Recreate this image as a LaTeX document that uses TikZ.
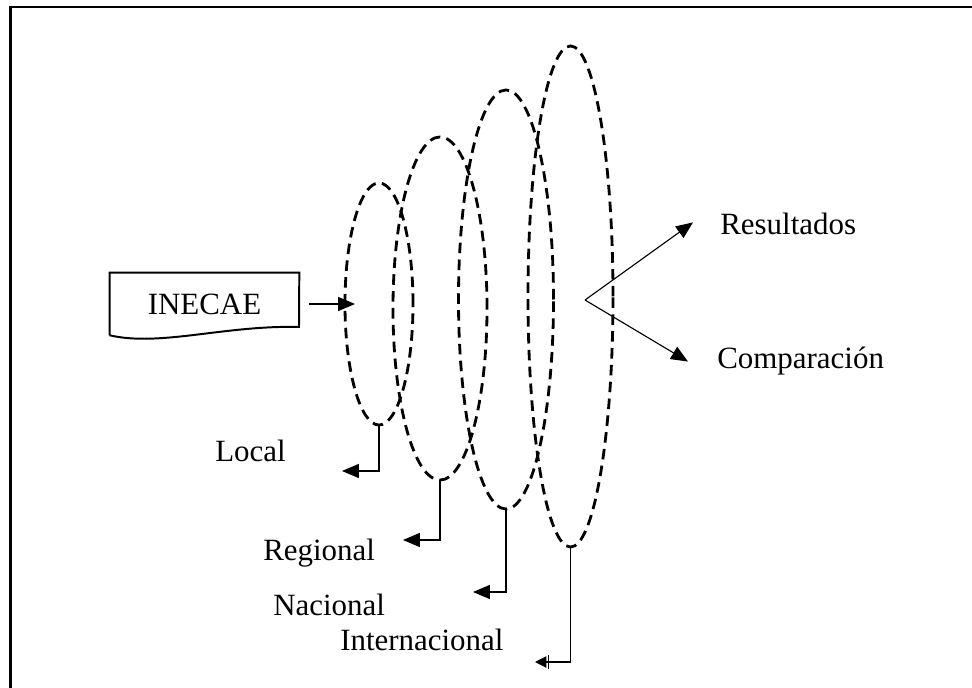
\documentclass[tikz,border=0pt]{standalone}
\usepackage{fontspec}
\setmainfont{Liberation Serif}
\usepackage{tikz}
\usetikzlibrary{arrows.meta,positioning,calc,shapes.geometric}

\begin{document}
\begin{tikzpicture}[
    x=0.025cm, y=-0.025cm,
    >=Latex,
    ring/.style={draw, ellipse, dash pattern=on 7.5pt off 4.5pt, line width=2pt, inner sep=0pt, outer sep=0pt},
    link/.style={line width=0.8pt, -{Triangle[length=12pt,width=10pt]}},
    label/.style={font=\fontsize{22}{26}\selectfont, inner sep=0pt, anchor=base west}
]
\clip (0,0) rectangle (972,688);
\draw[line width=2.1pt] (10.5,7) rectangle (1000,720);

\node[ring, minimum width=1.7cm, minimum height=6.05cm] (ring1) at (379,304) {};
\node[ring, minimum width=2.35cm, minimum height=8.575cm] (ring2) at (440,308.5) {};
\node[ring, minimum width=2.375cm, minimum height=10.475cm] (ring3) at (506,299.5) {};
\node[ring, minimum width=2.125cm, minimum height=12.525cm] (ring4) at (570.5,296.5) {};

\node[font=\fontsize{22}{26}\selectfont, minimum width=4.725cm, minimum height=1.55cm, inner sep=0pt] (doc) at (204.5,304) {INECAE};
\draw[line width=1.4pt] (doc.south west) -- (doc.north west) -- (doc.north east) -- (299,327)
    .. controls (225,325) and (160,347) .. (doc.south west);

\node[label] (res) at (720,235) {Resultados};
\node[label] (comp) at (717,369) {Comparación};
\node[label] (local) at (215,461) {Local};
\node[label] (regional) at (263,560) {Regional};
\node[label] (nacional) at (273,615) {Nacional};
\node[label] (inter) at (340,650) {Internacional};

\coordinate (fork) at (585,300);
\coordinate (tip1) at (342,471);
\coordinate (tip2) at (403,540);
\coordinate (tip3) at (473,592);
\coordinate (tip4) at (535,662);

\draw[link] ([xshift=0.25cm]doc.east) -- ([xshift=0.25cm]ring1.west);
\draw[link] (fork) -- ([xshift=-0.675cm,yshift=0.05cm]res.west);
\draw[link] (fork) -- ([xshift=-0.725cm]comp.west);

\draw[link] (ring1.south) |- (tip1);
\draw[link] (ring2.south) |- (tip2);
\draw[link] (ring3.south) |- (tip3);
\draw[line width=0.8pt, -{Bar[width=10pt,sep=1.5pt]Triangle[length=8pt,width=8pt]}] (ring4.south) |- (tip4);
\end{tikzpicture}
\end{document}
